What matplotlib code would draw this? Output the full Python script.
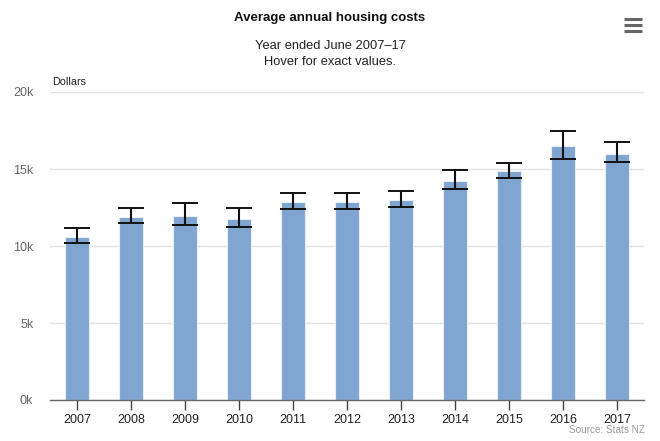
import matplotlib.pyplot as plt
import matplotlib.lines as mlines

plt.rcParams['font.family'] = ['Liberation Sans', 'DejaVu Sans']

# data
years = ['2007', '2008', '2009', '2010', '2011', '2012', '2013', '2014', '2015', '2016', '2017']
costs = [10570, 11890, 11980, 11760, 12850, 12850, 13000, 14190, 14840, 16470, 15970]
err_low = [10200, 11480, 11390, 11260, 12390, 12390, 12540, 13670, 14430, 15670, 15450]
err_high = [11170, 12450, 12760, 12450, 13450, 13460, 13600, 14950, 15380, 17450, 16730]
y_ticks = [0, 5000, 10000, 15000, 20000]
y_tick_labels = ['0k', '5k', '10k', '15k', '20k']

fig = plt.figure(figsize=(6.6, 4.41), dpi=100)
ax = fig.add_axes([50 / 660, 1 - 400 / 441, (644 - 50) / 660, (400 - 92) / 441])

x = list(range(len(years)))
ax.bar(x, costs, width=0.46, color='#7fa5d0', edgecolor='#e8eef6', linewidth=0.8, zorder=2)

lower = [c - lo for c, lo in zip(costs, err_low)]
upper = [hi - c for c, hi in zip(costs, err_high)]
ax.errorbar(x, costs, yerr=[lower, upper], fmt='none', ecolor='#111111',
            elinewidth=1.5, capsize=9.2, capthick=1.4, zorder=3)

ax.set_xlim(-0.5, len(years) - 0.5)
ax.set_ylim(0, 20000)
ax.set_yticks(y_ticks)
ax.set_yticklabels(y_tick_labels)
ax.set_xticks(x)
ax.set_xticklabels(years)

ax.grid(axis='y', color='#e3e3e3', linewidth=1, zorder=0)
ax.set_axisbelow(True)
for s in ['top', 'right', 'left']:
    ax.spines[s].set_visible(False)
ax.spines['bottom'].set_color('#666666')
ax.spines['bottom'].set_linewidth(1)

ax.tick_params(axis='y', length=0, pad=12, labelsize=9, labelcolor='#666666')
ax.tick_params(axis='x', length=7, width=1, color='#444444', labelsize=9,
               labelcolor='#222222', pad=3)

fig.text(0.5, 1 - 18 / 441, 'Average annual housing costs', ha='center', va='center',
         fontsize=9.5, fontweight='bold', color='#111111')
fig.text(0.5, 1 - 46 / 441, 'Year ended June 2007\u201317', ha='center', va='center',
         fontsize=9.3, color='#222222')
fig.text(0.5, 1 - 62 / 441, 'Hover for exact values.', ha='center', va='center',
         fontsize=9.3, color='#222222')
fig.text(52 / 660, 1 - 82 / 441, 'Dollars', ha='left', va='center',
         fontsize=7.8, color='#222222')
fig.text(645 / 660, 1 - 430 / 441, 'Source: Stats NZ', ha='right', va='center',
         fontsize=7.2, color='#999999')

# menu icon
for yy in [19, 25, 31]:
    fig.add_artist(mlines.Line2D([624 / 660, 642 / 660], [1 - yy / 441] * 2,
                                 color='#666666', linewidth=2.2, solid_capstyle='butt'))

fig.savefig('out.png', dpi=100)
